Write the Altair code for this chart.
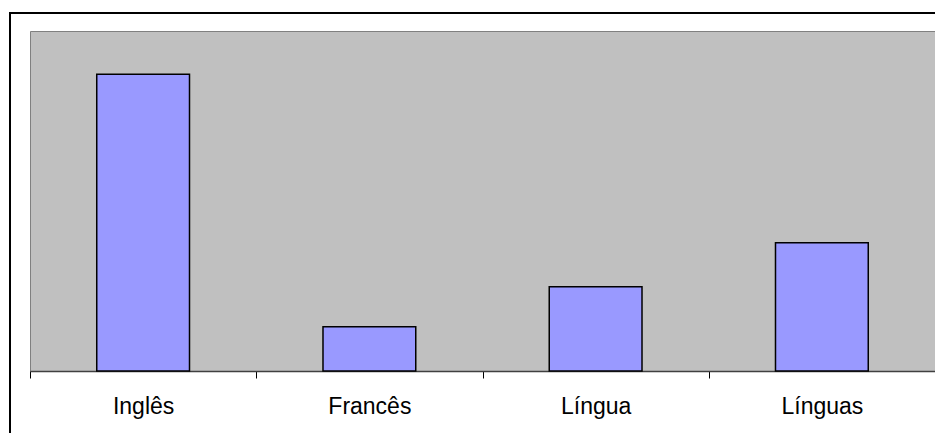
import altair as alt
import pandas as pd

categories = ["Inglês", "Francês", "Língua", "Línguas"]
values = [34.9, 5.2, 9.9, 15.1]

df = pd.DataFrame({"cat": categories, "val": values})

W, H = 905, 340

xscale = alt.Scale(paddingInner=0, paddingOuter=0)
yscale = alt.Scale(domain=[0, 40], nice=False)

bars = alt.Chart(df).mark_bar(
    fill="#9999FF", stroke="#000000", strokeWidth=1.5, width={"band": 0.41}
).encode(
    x=alt.X("cat:N", sort=categories, scale=xscale,
            axis=alt.Axis(title=None, labelAngle=0, labelFont="Liberation Sans",
                          labelFontSize=23, labelColor="#000000", labelPadding=35,
                          labelBaseline="alphabetic",
                          tickBand="extent", tickSize=7, tickColor="#000000",
                          domainColor="#404040", domainWidth=1.5, grid=False)),
    y=alt.Y("val:Q", scale=yscale, axis=None),
)

frame_left = alt.Chart(df).mark_rule(color="#000000", strokeWidth=2).encode(
    x=alt.value(-20), y=alt.value(-18), y2=alt.value(402)
)
frame_top = alt.Chart(df).mark_rule(color="#000000", strokeWidth=2).encode(
    x=alt.value(-21), x2=alt.value(W), y=alt.value(-18)
)

chart = alt.layer(bars, frame_left, frame_top).properties(
    width=W, height=H,
    autosize=alt.AutoSizeParams(type="none"),
    padding={"left": 22, "top": 23, "right": 0, "bottom": 62},
    background="#FFFFFF",
).configure_view(
    fill="#C0C0C0", stroke="#808080", strokeWidth=1
)

chart.save("out.html", embed_options={"renderer": "svg", "actions": False})
